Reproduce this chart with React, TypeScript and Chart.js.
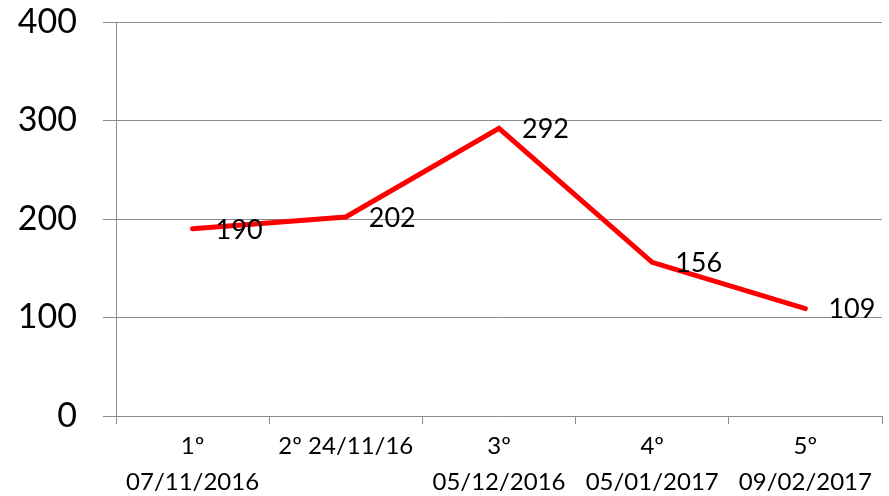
import React, { useEffect, useRef } from "react";
import { Chart, registerables } from "chart.js";

Chart.register(...registerables);

const categories: string[][] = [
  ["1º", "07/11/2016"],
  ["2º 24/11/16"],
  ["3º", "05/12/2016"],
  ["4º", "05/01/2017"],
  ["5º", "09/02/2017"],
];
const values: number[] = [190, 202, 292, 156, 109];
const yTicks: number[] = [0, 100, 200, 300, 400];

const FONT = "Lato, 'Open Sans', sans-serif";

const dataLabels = {
  id: "dataLabels",
  afterDatasetsDraw(chart: any) {
    const ctx = chart.ctx;
    const meta = chart.getDatasetMeta(0);
    ctx.save();
    ctx.font = `27px ${FONT}`;
    ctx.fillStyle = "#000";
    ctx.textAlign = "left";
    ctx.textBaseline = "middle";
    meta.data.forEach((pt: any, i: number) => {
      ctx.fillText(String(values[i]), pt.x + 23, pt.y + 1);
    });
    ctx.restore();
  },
};

export default function App() {
  const ref = useRef<HTMLCanvasElement | null>(null);
  useEffect(() => {
    if (!ref.current) return;
    const chart = new Chart(ref.current, {
      type: "line",
      data: {
        labels: categories,
        datasets: [
          {
            data: values,
            borderColor: "#FF0000",
            borderWidth: 5,
            pointRadius: 0,
            borderCapStyle: "round",
            tension: 0,
          },
        ],
      },
      options: {
        animation: false,
        responsive: true,
        maintainAspectRatio: false,
        layout: { padding: { top: 22, right: 7, left: 0, bottom: 0 } },
        plugins: { legend: { display: false }, tooltip: { enabled: false } },
        scales: {
          x: {
            offset: true,
            afterFit(scale: any) {
              scale.height = 80;
              scale.paddingLeft = 0;
              scale.paddingRight = 0;
            },
            grid: {
              offset: true,
              drawOnChartArea: false,
              drawTicks: true,
              tickLength: 8,
              color: "#8c8c8c",
              lineWidth: 1,
            },
            border: { display: false },
            ticks: {
              color: "#000",
              font: { family: FONT, size: 24, lineHeight: 1.5 },
              padding: 4,
              maxRotation: 0,
              autoSkip: false,
            },
          },
          y: {
            min: 0,
            max: 400,
            afterFit(scale: any) {
              scale.width = 116;
              scale.paddingTop = 0;
              scale.paddingBottom = 0;
            },
            afterBuildTicks(scale: any) {
              scale.ticks = yTicks.map((v) => ({ value: v }));
            },
            grid: {
              color: "#8c8c8c",
              lineWidth: 1,
              drawTicks: true,
              tickLength: 13,
            },
            border: { display: true, color: "#8c8c8c", width: 1 },
            ticks: {
              color: "#000",
              font: { family: FONT, size: 34 },
              padding: 26,
            },
          },
        },
      },
      plugins: [dataLabels],
    });
    return () => chart.destroy();
  }, []);
  return (
    <div style={{ position: "absolute", left: 0, top: 0, width: 889, height: 496, background: "#fff" }}>
      <canvas ref={ref} />
    </div>
  );
}
